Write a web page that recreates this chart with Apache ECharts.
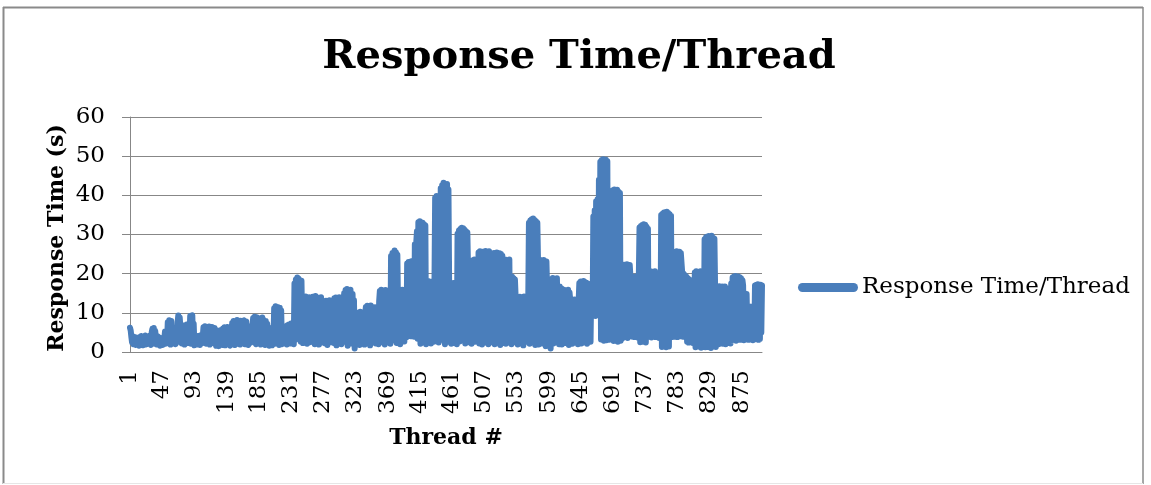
<!DOCTYPE html>
<html>
<head>
<meta charset="utf-8">
<title>Response Time/Thread</title>
<script src="https://cdn.jsdelivr.net/npm/echarts@6/dist/echarts.min.js"></script>
<style>
  html, body { margin: 0; padding: 0; background: #ffffff; }
  #chart { width: 1151px; height: 485px; }
</style>
</head>
<body>
<div id="chart"></div>
<script>
// Response time (seconds) measured for each thread, in thread order
const responseTimes = [
  6.2, 5.5, 3.8, 2.4, 3.6, 2.0, 3.9, 3.2, 1.8, 3.7, 4.0, 2.2, 3.5, 1.6, 3.8, 2.9, 4.1, 2.3, 3.4, 1.7,
  3.9, 2.6, 4.2, 1.9, 3.3, 4.0, 2.1, 3.6, 2.8, 4.3, 1.8, 5.0, 5.9, 3.1, 6.1, 2.2, 5.4, 3.6, 1.9, 3.4,
  4.0, 2.3, 3.7, 1.6, 3.2, 2.9, 2.5, 1.8, 2.7, 3.4, 5.2, 2.1, 4.8, 3.0, 7.6, 2.4, 8.1, 5.5, 1.9, 7.9,
  3.2, 6.0, 2.5, 5.8, 4.4, 2.0, 6.2, 3.1, 7.5, 9.3, 2.6, 8.8, 9.1, 4.0, 2.2, 6.8, 3.5, 6.4, 1.9, 6.6,
  2.8, 7.0, 4.1, 2.3, 6.5, 3.0, 9.2, 2.1, 8.7, 9.4, 3.3, 7.2, 1.7, 4.2, 2.4, 3.8, 1.9, 4.1, 2.9, 3.6,
  1.8, 4.3, 3.0, 2.2, 4.0, 6.3, 2.5, 6.6, 3.8, 2.1, 6.2, 5.0, 2.7, 6.5, 1.9, 5.8, 3.4, 6.4, 2.3, 5.6,
  2.9, 6.1, 4.2, 1.6, 5.0, 3.1, 5.4, 1.5, 4.6, 2.4, 5.6, 3.3, 1.8, 6.0, 2.7, 6.3, 1.7, 5.2, 3.6, 6.4,
  2.2, 6.2, 3.0, 1.6, 5.7, 2.8, 7.4, 2.0, 7.9, 4.5, 1.8, 7.6, 3.2, 8.2, 2.1, 6.9, 4.0, 1.9, 8.0, 3.3,
  7.7, 2.4, 6.8, 8.1, 2.0, 5.5, 7.8, 3.1, 6.4, 1.8, 6.6, 4.2, 2.3, 6.2, 3.5, 7.0, 8.7, 2.6, 9.0, 4.8,
  2.0, 8.9, 3.6, 8.4, 2.2, 7.5, 8.6, 1.9, 4.4, 8.8, 2.7, 8.2, 3.9, 1.8, 7.9, 2.6, 7.2, 3.0, 5.8, 1.6,
  6.0, 2.3, 5.4, 1.7, 6.3, 3.2, 11.2, 2.1, 11.7, 9.0, 2.6, 11.5, 6.4, 1.8, 11.3, 3.5, 10.6, 2.0, 6.1, 3.3,
  6.3, 2.4, 6.6, 4.1, 1.9, 6.8, 3.0, 7.0, 5.2, 2.2, 7.3, 3.8, 6.9, 4.4, 2.0, 17.5, 3.1, 18.5, 6.0, 19.0,
  3.4, 18.7, 5.1, 17.9, 2.6, 18.2, 6.2, 2.3, 5.9, 13.8, 3.0, 14.2, 7.5, 2.1, 13.9, 4.4, 14.0, 2.5, 9.8, 13.6,
  2.8, 14.1, 5.6, 13.7, 2.0, 14.3, 8.1, 3.2, 13.9, 6.0, 1.9, 13.5, 4.3, 14.0, 7.8, 2.4, 8.4, 3.5, 12.9, 2.2,
  13.1, 5.0, 1.8, 12.8, 3.6, 13.2, 7.4, 2.5, 12.6, 4.1, 8.0, 2.3, 13.7, 5.5, 13.9, 1.7, 13.4, 6.3, 2.8, 14.0,
  4.2, 13.6, 2.0, 9.2, 3.4, 10.5, 15.0, 2.6, 15.8, 6.9, 16.1, 1.6, 15.5, 9.3, 3.0, 15.9, 12.4, 2.2, 14.8, 5.1,
  13.2, 0.9, 9.8, 3.5, 10.1, 2.1, 7.6, 9.9, 1.8, 10.3, 4.6, 9.5, 2.7, 10.0, 6.2, 1.9, 9.7, 11.5, 3.3, 11.8,
  2.4, 11.6, 7.0, 1.7, 11.9, 4.5, 11.2, 2.9, 10.8, 6.1, 11.4, 2.2, 8.9, 3.8, 9.1, 2.0, 13.0, 15.6, 4.2, 15.9,
  2.5, 15.7, 8.8, 15.2, 1.9, 15.8, 5.4, 14.9, 2.8, 9.9, 3.4, 10.2, 2.1, 24.5, 6.0, 25.3, 3.0, 18.2, 25.9, 4.7,
  25.4, 2.3, 24.8, 11.0, 3.6, 15.8, 2.0, 15.4, 7.2, 15.9, 4.1, 14.6, 2.7, 15.6, 9.0, 3.8, 22.6, 5.3, 23.0, 4.4,
  22.8, 4.0, 23.2, 12.5, 4.6, 22.4, 3.9, 27.5, 5.0, 27.9, 30.8, 3.4, 33.1, 8.0, 33.4, 2.1, 32.7, 6.5, 33.0, 2.5,
  32.6, 12.0, 32.3, 2.0, 17.5, 3.2, 18.1, 2.4, 17.8, 9.6, 2.2, 18.0, 4.3, 17.4, 2.6, 16.8, 39.4, 3.0, 39.8, 5.5,
  39.5, 2.4, 39.9, 18.0, 41.8, 3.1, 42.6, 12.0, 43.2, 43.0, 2.0, 42.8, 7.0, 42.9, 2.6, 41.5, 17.4, 3.5, 17.7, 2.1,
  17.3, 5.8, 17.6, 2.3, 16.9, 9.2, 17.5, 2.0, 30.2, 4.4, 31.0, 2.7, 31.4, 15.0, 31.7, 3.1, 31.6, 8.5, 31.2, 2.2,
  30.8, 6.1, 30.5, 21.2, 2.5, 21.4, 4.0, 20.8, 2.1, 21.0, 23.4, 5.3, 23.6, 2.6, 23.1, 11.2, 23.5, 3.0, 25.4, 2.2,
  25.7, 9.8, 25.5, 1.9, 25.6, 4.7, 25.1, 2.4, 25.8, 14.3, 3.2, 25.4, 2.0, 25.7, 6.8, 17.5, 2.5, 17.2, 24.9, 3.6,
  25.3, 2.0, 25.1, 8.3, 25.4, 2.7, 24.8, 4.1, 25.2, 1.8, 25.0, 12.6, 24.6, 2.3, 23.5, 5.0, 23.6, 2.1, 23.3, 7.7,
  23.4, 2.4, 23.6, 3.8, 19.0, 2.0, 19.2, 6.4, 18.8, 2.5, 18.5, 14.0, 3.1, 14.2, 1.9, 13.8, 5.6, 14.1, 2.2, 14.0,
  3.0, 13.9, 1.7, 14.2, 8.0, 13.5, 2.6, 12.4, 4.2, 12.6, 33.0, 2.1, 33.6, 10.4, 33.9, 2.8, 34.1, 6.0, 33.7, 1.8,
  33.4, 3.9, 33.0, 23.2, 1.9, 23.6, 7.3, 23.4, 2.2, 23.0, 12.5, 23.5, 2.4, 22.8, 1.5, 23.1, 15.8, 3.3, 16.0, 2.0,
  15.7, 0.9, 18.6, 5.4, 18.9, 2.2, 18.7, 9.5, 18.4, 2.6, 18.8, 3.7, 16.5, 2.0, 16.7, 7.0, 16.3, 1.9, 15.8, 4.8,
  15.9, 2.3, 15.6, 10.0, 15.7, 2.8, 15.9, 1.8, 15.2, 13.3, 3.5, 13.4, 2.1, 13.0, 6.9, 13.4, 2.4, 13.2, 4.0, 13.1,
  2.0, 12.8, 17.6, 3.6, 18.0, 2.2, 17.8, 9.4, 18.1, 2.5, 17.9, 5.2, 17.7, 2.1, 17.5, 15.9, 3.8, 16.0, 2.6, 15.6,
  16.0, 9.5, 34.6, 10.0, 36.2, 9.2, 38.5, 10.8, 39.0, 9.6, 44.0, 12.0, 48.6, 3.2, 49.0, 6.5, 49.2, 2.9, 48.8, 14.0,
  49.1, 3.0, 48.7, 4.5, 36.0, 3.1, 35.8, 7.2, 41.0, 3.5, 41.3, 2.8, 41.5, 11.0, 41.2, 3.2, 41.4, 2.6, 40.9, 5.0,
  40.6, 2.9, 21.0, 3.4, 22.1, 3.8, 22.3, 10.5, 22.0, 4.0, 22.4, 3.6, 21.8, 8.2, 22.2, 19.2, 4.1, 19.3, 3.9, 19.0,
  13.0, 3.8, 19.3, 4.2, 19.1, 7.5, 3.7, 19.2, 31.8, 2.5, 32.2, 12.0, 32.4, 2.6, 32.6, 6.1, 32.5, 2.4, 32.0, 9.0,
  31.5, 3.9, 20.4, 4.2, 20.6, 3.7, 20.3, 11.0, 20.5, 4.0, 20.6, 3.8, 20.2, 19.3, 4.5, 19.1, 3.6, 19.2, 8.0, 35.0,
  1.3, 35.3, 1.5, 35.6, 9.0, 35.7, 1.2, 35.8, 4.0, 35.5, 1.4, 35.2, 12.0, 34.8, 3.8, 17.5, 4.3, 25.2, 3.9, 25.6,
  4.2, 25.7, 3.8, 25.5, 14.0, 25.6, 4.0, 25.3, 25.0, 20.2, 3.9, 20.0, 9.6, 19.6, 4.1, 19.2, 2.6, 18.8, 2.4, 18.5,
  2.5, 17.2, 6.0, 16.8, 2.3, 17.0, 2.6, 20.3, 1.2, 20.6, 8.5, 20.5, 1.4, 20.4, 3.0, 20.6, 1.1, 20.2, 12.0, 1.3,
  6.0, 28.8, 1.2, 29.3, 5.0, 29.5, 1.3, 29.6, 17.0, 29.4, 1.0, 29.7, 3.5, 29.2, 1.4, 28.9, 16.5, 1.3, 16.7, 4.0,
  16.6, 2.0, 16.8, 8.0, 16.4, 2.2, 16.7, 2.1, 16.5, 11.0, 16.7, 2.0, 16.3, 12.4, 2.3, 12.6, 5.0, 12.2, 2.2, 17.5,
  3.0, 19.0, 3.2, 19.3, 9.5, 19.4, 2.9, 19.2, 3.4, 19.3, 14.0, 19.1, 3.1, 18.8, 3.3, 18.4, 17.0, 3.0, 15.0, 14.2,
  3.2, 14.8, 6.0, 11.5, 3.1, 11.6, 3.3, 11.4, 7.0, 11.6, 3.0, 5.5, 3.2, 17.0, 3.4, 17.2, 9.0, 17.3, 3.1, 17.1,
  3.3, 17.2, 5.0, 17.0
];

// Thread numbers along the category axis (1-based)
const threadNumbers = responseTimes.map((_, i) => String(i + 1));

const chartTitle = 'Response Time/Thread';
const seriesName = 'Response Time/Thread';
const yAxisTitle = 'Response Time (s)';
const xAxisTitle = 'Thread #';

const SERIF = '"DejaVu Serif", "Liberation Serif", serif';
const GRID_GRAY = '#878787';
const LINE_BLUE = '#4A7EBB';

const chart = echarts.init(document.getElementById('chart'), null, { renderer: 'canvas' });

chart.setOption({
  animation: false,
  backgroundColor: '#ffffff',
  grid: { left: 130, top: 117, width: 632, height: 235, containLabel: false },
  legend: {
    left: 798,
    top: 276,
    padding: 0,
    itemWidth: 60,
    itemHeight: 9,
    itemGap: 0,
    icon: 'path://M4.5,0 L55.5,0 A4.5,4.5 0 0 1 55.5,9 L4.5,9 A4.5,4.5 0 0 1 4.5,0 Z',
    textStyle: { fontFamily: SERIF, fontSize: 23, color: '#000000', padding: [0, 0, 0, -1] },
    data: [seriesName]
  },
  xAxis: {
    type: 'category',
    data: threadNumbers,
    boundaryGap: false,
    axisLine: { show: true, lineStyle: { color: GRID_GRAY, width: 1 } },
    axisTick: { show: false },
    axisLabel: {
      interval: 45,
      rotate: 90,
      margin: 18,
      fontFamily: SERIF,
      fontSize: 23,
      color: '#000000'
    },
    splitLine: { show: false }
  },
  yAxis: {
    type: 'value',
    min: 0,
    max: 60,
    interval: 10,
    axisLine: { show: true, lineStyle: { color: GRID_GRAY, width: 1 } },
    axisTick: { show: true, length: 8, lineStyle: { color: GRID_GRAY, width: 1 } },
    axisLabel: { margin: 25, fontFamily: SERIF, fontSize: 23, color: '#000000' },
    splitLine: { show: true, lineStyle: { color: GRID_GRAY, width: 1 } }
  },
  series: [{
    name: seriesName,
    type: 'line',
    data: responseTimes,
    symbol: 'none',
    showSymbol: false,
    itemStyle: { color: LINE_BLUE },
    lineStyle: { color: LINE_BLUE, width: 6, cap: 'round', join: 'round' }
  }],
  graphic: [
    // chart frame
    { type: 'line', shape: { x1: 3.5, y1: 7, x2: 3.5, y2: 484 }, style: { stroke: '#8a8a8a', lineWidth: 2 } },
    { type: 'line', shape: { x1: 3, y1: 7.5, x2: 1143, y2: 7.5 }, style: { stroke: '#8a8a8a', lineWidth: 2 } },
    { type: 'line', shape: { x1: 1143, y1: 7, x2: 1143, y2: 484 }, style: { stroke: '#8a8a8a', lineWidth: 1.5 } },
    { type: 'line', shape: { x1: 3, y1: 483.5, x2: 1143, y2: 483.5 }, style: { stroke: '#e6e6e6', lineWidth: 1 } },
    // chart title
    {
      type: 'text', x: 579, y: 58,
      style: { text: chartTitle, font: 'bold 40px ' + SERIF, fill: '#000000', align: 'center', verticalAlign: 'middle' }
    },
    // value axis title
    {
      type: 'text', x: 57, y: 238, rotation: Math.PI / 2,
      style: { text: yAxisTitle, font: 'bold 22px ' + SERIF, fill: '#000000', align: 'center', verticalAlign: 'middle' }
    },
    // category axis title
    {
      type: 'text', x: 446, y: 438,
      style: { text: xAxisTitle, font: 'bold 22px ' + SERIF, fill: '#000000', align: 'center', verticalAlign: 'middle' }
    }
  ]
});
</script>
</body>
</html>
